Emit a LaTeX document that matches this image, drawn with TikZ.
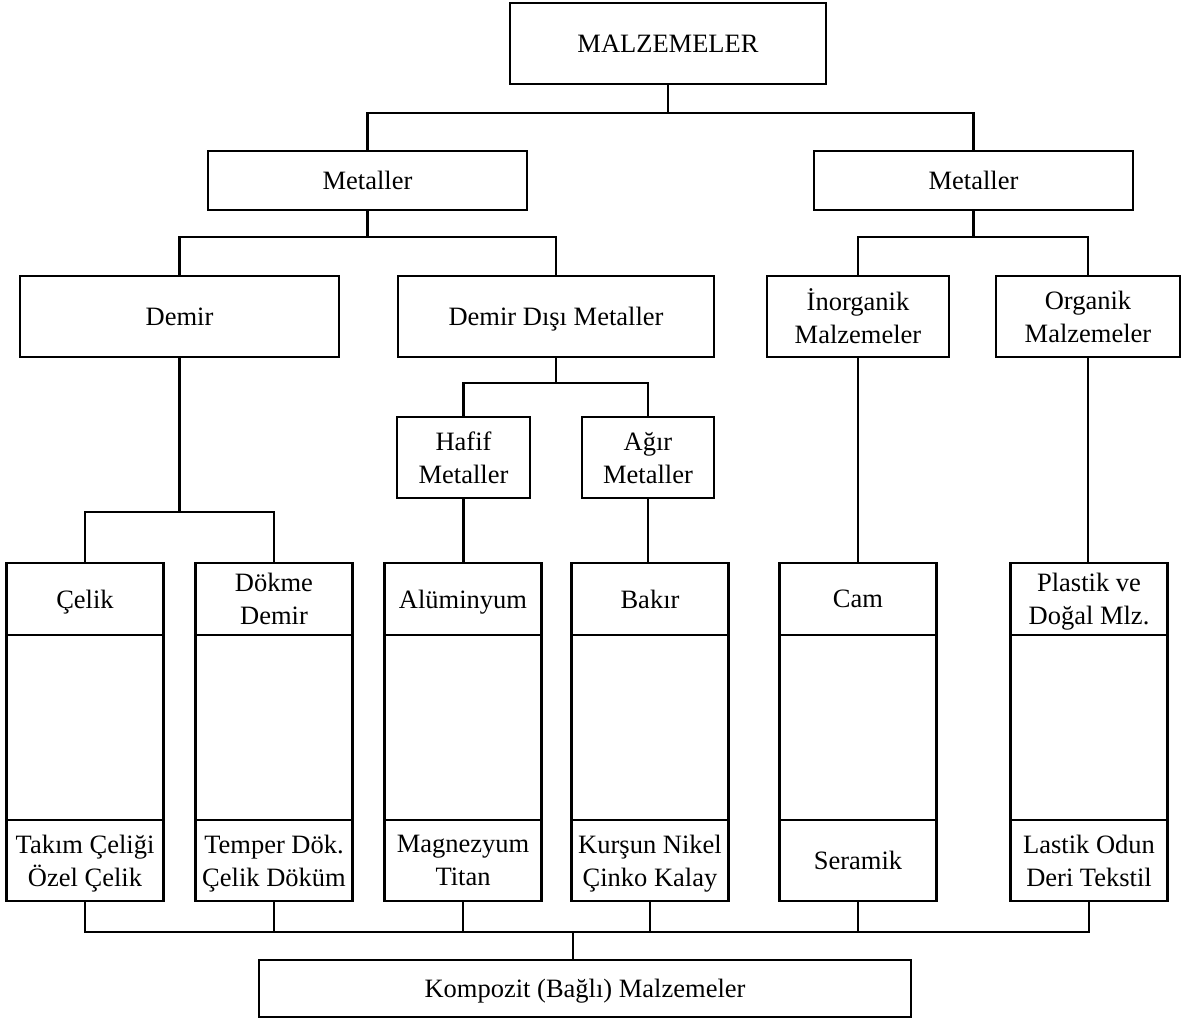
\documentclass[tikz,border=0pt]{standalone}
\usepackage{fontspec}
\setmainfont{Liberation Serif}
\usetikzlibrary{positioning}

\begin{document}
\begin{tikzpicture}[x=1pt,y=-1pt,
  box/.style={draw,line width=2.4pt,inner sep=2pt,outer sep=0pt,align=center,
    text depth=0pt,font=\fontsize{26.5}{33}\selectfont},
  wide/.style={box,minimum width=319pt,minimum height=81pt},
  small/.style={box,minimum width=133pt,minimum height=81pt},
  head/.style={box,minimum width=157pt,minimum height=72pt},
  mid/.style={box,minimum width=157pt,minimum height=185pt},
  foot/.style={box,minimum width=157pt,minimum height=81pt},
  link/.style={line width=2.4pt}]
  \useasboundingbox (0,0) rectangle (1182,1018);

  \node[wide,minimum width=316pt] (malz) at (668,43.5) {MALZEMELER};

  \node[wide,minimum height=59pt] (metL) at (367.5,180.5) {Metaller};
  \node[wide,minimum height=59pt] (metR) at (973.5,180.5) {Metaller};

  \node[wide] (demir) at (179.5,316.5) {Demir};
  \node[wide,minimum width=316pt] (dd) at (556,316.5) {Demir Dışı Metaller};
  \node[wide,minimum width=182pt] (inorg) at (858,316.5) {İnorganik\\Malzemeler};
  \node[wide,minimum width=184pt] (org) at (1088,316.5) {Organik\\Malzemeler};

  \node[small] (hafif) at (463.5,457.5) {Hafif\\Metaller};
  \node[small,minimum width=132pt] (agir) at (648,457.5) {Ağır\\Metaller};

  \node[head] (celikT) at (85,599) {Çelik};
  \node[mid,below=0pt of celikT] (celikM) {};
  \node[foot,below=0pt of celikM] (celikB) {Takım Çeliği\\Özel Çelik};

  \node[head] (dokmeT) at (274,599) {Dökme\\Demir};
  \node[mid,below=0pt of dokmeT] (dokmeM) {};
  \node[foot,below=0pt of dokmeM] (dokmeB) {Temper Dök.\\Çelik Döküm};

  \node[head] (alumT) at (463,599) {Alüminyum};
  \node[mid,below=0pt of alumT] (alumM) {};
  \node[foot,below=0pt of alumM] (alumB) {Magnezyum\\Titan};

  \node[head] (bakirT) at (650,599) {Bakır};
  \node[mid,below=0pt of bakirT] (bakirM) {};
  \node[foot,below=0pt of bakirM] (bakirB) {Kurşun Nikel\\Çinko Kalay};

  \node[head] (camT) at (858,599) {Cam};
  \node[mid,below=0pt of camT] (camM) {};
  \node[foot,below=0pt of camM] (camB) {Seramik};

  \node[head] (plasT) at (1089,599) {Plastik ve\\Doğal Mlz.};
  \node[mid,below=0pt of plasT] (plasM) {};
  \node[foot,below=0pt of plasM] (plasB) {Lastik Odun\\Deri Tekstil};

  \node[box,minimum width=652pt,minimum height=57pt] (komp) at (585,988.5)
    {Kompozit (Bağlı) Malzemeler};

  \draw[link] (malz.south) -- ++(0,29) -| (metL.north);
  \draw[link] (malz.south) -- ++(0,29) -| (metR.north);

  \draw[link] (metL.south) -- ++(0,27) -| (demir.north);
  \draw[link] (metL.south) -- ++(0,27) -| (dd.north);
  \draw[link] (metR.south) -- ++(0,27) -| (inorg.north);
  \draw[link] (metR.south) -- ++(0,27) -| (org.north);

  \draw[link] (dd.south) -- ++(0,26) -| (hafif.north);
  \draw[link] (dd.south) -- ++(0,26) -| (agir.north);

  \draw[link] (demir.south) -- ++(0,155) -| (celikT.north);
  \draw[link] (demir.south) -- ++(0,155) -| (dokmeT.north);
  \draw[link] (hafif.south) -- (hafif.south |- alumT.north);
  \draw[link] (agir.south) -- (agir.south |- bakirT.north);
  \draw[link] (inorg.south) -- (inorg.south |- camT.north);
  \draw[link] (org.south) -- (org.south |- plasT.north);

  \draw[link] (celikB.south) -- ++(0,31) -| (plasB.south);
  \draw[link] (dokmeB.south) -- ++(0,31);
  \draw[link] (alumB.south) -- ++(0,31);
  \draw[link] (bakirB.south) -- ++(0,31);
  \draw[link] (camB.south) -- ++(0,31);
  \coordinate (join) at (573,932);
  \draw[link] (join) -- (join |- komp.north);
\end{tikzpicture}
\end{document}
